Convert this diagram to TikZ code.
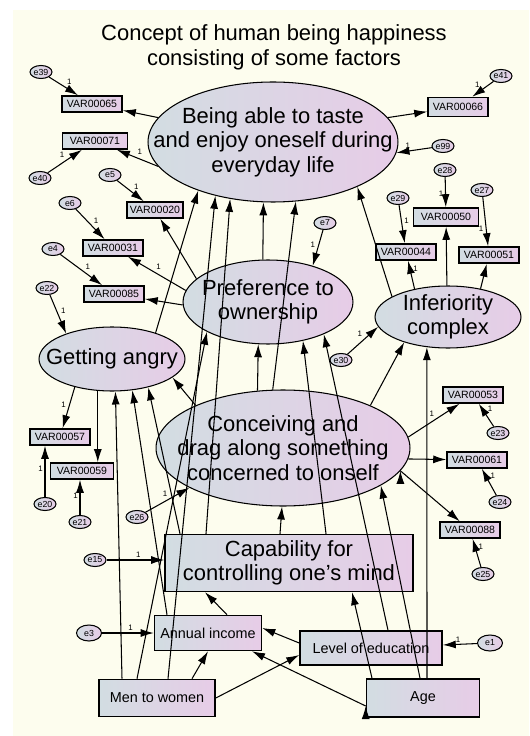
\documentclass[tikz,border=0pt]{standalone}
\usepackage{fontspec}
\setmainfont{Liberation Sans}
\usetikzlibrary{positioning, arrows.meta, shapes.geometric}
\definecolor{paper}{RGB}{253,253,238}
\definecolor{leftshade}{RGB}{210,221,226}
\definecolor{rightshade}{RGB}{231,204,231}

\begin{document}
\begin{tikzpicture}[x=0.02cm, y=-0.02cm]

        % Setup the styles for the variables
        \tikzset{latent/.style={ellipse, draw, line width=0.6pt, inner sep=0pt,
                                left color=leftshade, right color=rightshade},
                 lattext/.style={align=center, font=\fontsize{12.5}{14}\selectfont},
                 observed/.style={rectangle, draw, line width=0.9pt, inner sep=1pt,
                                left color=leftshade, right color=rightshade,
                                minimum width=1.2cm, minimum height=0.32cm,
                                font=\fontsize{6}{7}\selectfont},
                 given/.style={rectangle, draw, line width=0.9pt,
                                left color=leftshade, right color=rightshade,
                                align=center, font=\fontsize{8.2}{10}\selectfont},
                 error/.style={ellipse, draw, line width=0.6pt, inner sep=0pt,
                                left color=leftshade, right color=rightshade,
                                minimum width=0.44cm, minimum height=0.26cm,
                                font=\fontsize{5}{6}\selectfont},
                 link/.style={-{Latex[length=2.6mm,width=1.6mm]}, line width=0.6pt},
                 one/.style={font=\fontsize{4.5}{5}\selectfont, inner sep=1pt, pos=0.55, auto}}

        \useasboundingbox (0,0) rectangle (529,736);
        \fill[white] (0,0) rectangle (529,736);
        \fill[paper] (13,10) rectangle (529,736);

        % Title
        \node[align=center, font=\fontsize{12.5}{14.2}\selectfont] (title) at (274,47)
             {Concept of human being happiness\\consisting of some factors};

        % Draw the latent variables
        \node[latent, minimum width=5cm, minimum height=2.4cm,
              label={[lattext]center:Being able to taste\\and enjoy oneself during\\everyday life}]
              at (273,142) (enjoy) {};
        \node[latent, minimum width=3.4cm, minimum height=1.68cm,
              label={[lattext]center:Preference to\\ownership}]
              at (268,302) (own) {};
        \node[latent, minimum width=2.92cm, minimum height=1.24cm,
              label={[lattext]center:Inferiority\\complex}]
              at (448,317) (inf) {};
        \node[latent, minimum width=2.92cm, minimum height=1.28cm,
              label={[lattext]center:Getting angry}]
              at (112,359) (angry) {};
        \node[latent, minimum width=5.08cm, minimum height=2.32cm,
              label={[lattext]center:Conceiving and\\drag along something\\concerned to onself}]
              at (283,448) (conc) {};

        % Draw the given variables
        \node[given, minimum width=4.96cm, minimum height=1.06cm,
              font=\fontsize{12.5}{14}\selectfont] at (289,563) (cap)
             {Capability for\\controlling one's mind};
        \node[given, minimum width=2.1cm, minimum height=0.7cm] at (208,633) (income) {Annual income};
        \node[given, minimum width=2.32cm, minimum height=0.74cm] at (157,698) (men) {Men to women};
        \node[given, minimum width=2.84cm, minimum height=0.68cm] at (371,648) (edu) {Level of education};
        \node[given, minimum width=2.26cm, minimum height=0.76cm] at (423,698) (age) {Age};

        % Draw the observed variables
        \node[observed] at (92,104)  (v65) {VAR00065};
        \node[observed, minimum width=1.3cm] at (95,141)  (v71) {VAR00071};
        \node[observed, minimum height=0.38cm] at (458,107) (v66) {VAR00066};
        \node[observed, minimum width=1.12cm] at (155,210) (v20) {VAR00020};
        \node[observed] at (113,248) (v31) {VAR00031};
        \node[observed] at (114,294) (v85) {VAR00085};
        \node[observed, minimum width=1.3cm, minimum height=0.36cm] at (446,217) (v50) {VAR00050};
        \node[observed] at (406,252) (v44) {VAR00044};
        \node[observed] at (489,255) (v51) {VAR00051};
        \node[observed] at (60,437)  (v57) {VAR00057};
        \node[observed, minimum width=1.26cm] at (82,471)  (v59) {VAR00059};
        \node[observed] at (473,395) (v53) {VAR00053};
        \node[observed] at (477,460) (v61) {VAR00061};
        \node[observed] at (470,530) (v88) {VAR00088};

        % Draw the errors
        \node[error] at (41,72)   (e39) {e39};
        \node[error] at (40,178)  (e40) {e40};
        \node[error] at (110,175) (e5)  {e5};
        \node[error] at (70,203)  (e6)  {e6};
        \node[error] at (53,249)  (e4)  {e4};
        \node[error] at (47,288)  (e22) {e22};
        \node[error] at (501,76)  (e41) {e41};
        \node[error] at (443,146) (e99) {e99};
        \node[error] at (445,170) (e28) {e28};
        \node[error] at (482,190) (e27) {e27};
        \node[error] at (398,198) (e29) {e29};
        \node[error] at (325,223) (e7)  {e7};
        \node[error] at (341,360) (e30) {e30};
        \node[error] at (45,504)  (e20) {e20};
        \node[error] at (80,522)  (e21) {e21};
        \node[error] at (137,517) (e26) {e26};
        \node[error] at (95,560)  (e15) {e15};
        \node[error] at (498,433) (e23) {e23};
        \node[error] at (500,502) (e24) {e24};
        \node[error] at (483,574) (e25) {e25};
        \node[error, minimum width=0.5cm, minimum height=0.32cm] at (89,633) (e3) {e3};
        \node[error, minimum width=0.5cm, minimum height=0.32cm] at (490,643) (e1) {e1};

        % Connect the errors with their variables
        \draw[link]
            (e39) edge node[one] {1} (v65)
            (e40) edge node[one] {1} (v71)
            (e41) edge node[one, swap] {1} (v66)
            (e99) edge node[one, swap] {1} (enjoy.-5)
            (e5)  edge node[one] {1} (v20)
            (e6)  edge node[one] {1} (v31)
            (e4)  edge node[one] {1} (v85)
            (e7)  edge node[one, swap] {1} (own.39)
            (e28) edge node[one, swap] {1} (v50)
            (e27) edge node[one, swap] {1} (v51)
            (e29) edge node[one] {1} (v44)
            (e30) edge node[one] {1} (inf.-172)
            (e22) edge node[one] {1} (angry.151)
            (e20) edge node[one] {1} (v57.south -| e20)
            (e21) edge node[one] {1} (v59.south -| e21)
            (e26) edge node[one] {1} (conc.-157)
            (e23) edge node[one, swap] {1} (v53)
            (e24) edge node[one, swap] {1} (v61)
            (e25) edge node[one, swap] {1} (v88)
            (e15) edge node[one] {1} (cap.west |- e15)
            (e3)  edge node[one] {1} (income)
            (e1)  edge node[one, swap] {1} (edu);

        % Connect the latent variables with their indicators
        \draw[link]
            (enjoy.168) edge (v65)
            (enjoy.192) edge node[one, swap] {1} (v71)
            (enjoy.12)  edge (v66)
            (own.162)   edge (v20)
            (own.172)   edge node[one, swap] {1} (v31)
            (own.182)   edge (v85)
            (inf.140)   edge node[one, swap] {1} (v44)
            (inf.92)    edge (v50)
            (inf.41)    edge (v51)
            (angry.-143) edge node[one, swap] {1} (v57)
            (angry.-114) edge (v59.north -| angry.-114)
            (conc.5)    edge node[one] {1} (v53)
            (conc.-5)   edge (v61)
            (conc.-11)  edge (v88);

        % Connect the structural paths
        \draw[link]
            (own.97)    edge (enjoy.-99)
            (inf.160)   edge (enjoy.-28)
            (angry.31)  edge (enjoy.-147)
            (conc.114)  edge (own.-103)
            (conc.100)  edge (enjoy.-69)
            (conc.26)   edge (inf.-150)
            (conc.154)  edge (angry.-17)
            (cap.north -| 280,0) edge (conc.-91)
            (cap.north -| 180,0) edge (angry.-38)
            (cap.north -| 326,0) edge (own.-48)
            (cap.north -| 206,0) edge (enjoy.-127)
            (men.north -| 122,0) edge (angry.-84)
            (men.north -| 137,0) edge (own.-154)
            (men.north -| 168,0) edge (enjoy.-137)
            (men.north -| 192,0) edge (income.south -| 208,0)
            (men.east)           edge (edu.west |- 0,655)
            (income.north -| 167,0) edge (angry.-57)
            (income.north -| 227,0) edge (cap.south -| 205,0)
            (edu.west |- 0,643)  edge (income.east |- 0,628)
            (edu.north -| 388,0) edge (own.-30)
            (age.north -| 427,0) edge (inf.-125)
            (age.north -| 420,0) edge (conc.-21)
            (age.north -| 372,0) edge (cap.south -| 352,0)
            (age.west |- 0,706)  edge (income.south -| 252,0);

\end{tikzpicture}
\end{document}
